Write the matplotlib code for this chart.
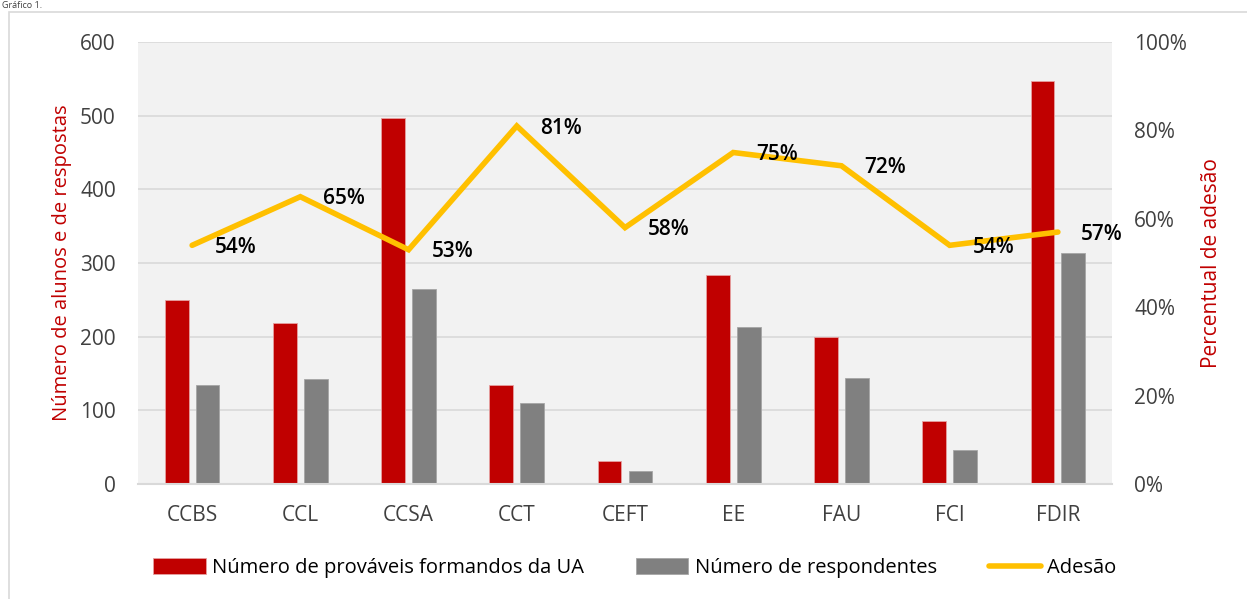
import matplotlib
matplotlib.use("Agg")
import matplotlib.pyplot as plt
import numpy as np
from matplotlib.patches import Rectangle

plt.rcParams['font.family'] = ['Open Sans', 'DejaVu Sans']

categories = ["CCBS", "CCL", "CCSA", "CCT", "CEFT", "EE", "FAU", "FCI", "FDIR"]
formandos = [250, 218, 497, 135, 31, 284, 200, 85, 547]
respondentes = [134, 142, 265, 110, 18, 213, 144, 46, 314]
adesao = [54, 65, 53, 81, 58, 75, 72, 54, 57]
left_ticks = [0, 100, 200, 300, 400, 500, 600]
right_ticks = [0, 20, 40, 60, 80, 100]

W, H = 1247, 599
fig = plt.figure(figsize=(W / 100, H / 100), dpi=100)
fig.patch.set_facecolor("white")

# outer border (partially cut)
fig.add_artist(Rectangle((9 / W, -0.1), 1.2, 1 - 12 / H + 0.1, transform=fig.transFigure,
                         fill=False, edgecolor="#D9D9D9", linewidth=1.2))
fig.text(2 / W, 1 - 1 / H, "Gráfico 1.", fontsize=6.5, color="#404040", va="top", ha="left")

ax = fig.add_axes([138 / W, 1 - 484 / H, (1112 - 138) / W, (484 - 42) / H])
ax.set_facecolor("#F2F2F2")
x = np.arange(len(categories))
off = 0.143
bw = 0.22
b1 = ax.bar(x - off, formandos, bw, color="#C00000", edgecolor="#E6A0A0", linewidth=0.6,
            label="Número de prováveis formandos da UA", zorder=2)
b2 = ax.bar(x + off, respondentes, bw, color="#808080", edgecolor="#A6A6A6", linewidth=0.6,
            label="Número de respondentes", zorder=2)
ax.set_ylim(0, 600)
ax.set_xlim(-0.5, len(categories) - 0.5)
ax.set_yticks(left_ticks)
ax.set_yticklabels([str(t) for t in left_ticks])
ax.yaxis.grid(True, color="#D9D9D9", linewidth=1.2, zorder=0)
ax.set_axisbelow(True)
for s in ["top", "left", "right"]:
    ax.spines[s].set_visible(False)
ax.spines["bottom"].set_color("#D9D9D9")
ax.spines["bottom"].set_linewidth(1.5)
ax.tick_params(axis="both", length=0, labelsize=15, colors="#404040")
ax.tick_params(axis="y", pad=16)
ax.tick_params(axis="x", pad=15)
ax.set_xticks(x)
ax.set_xticklabels(categories)
ax.set_ylabel("Número de alunos e de respostas", color="#C00000", fontsize=14.5, labelpad=6)

ax2 = ax.twinx()
ax2.set_ylim(0, 100)
ax2.set_yticks(right_ticks)
ax2.set_yticklabels([f"{t}%" for t in right_ticks])
for s in ["top", "left", "right", "bottom"]:
    ax2.spines[s].set_visible(False)
ax2.tick_params(axis="y", length=0, labelsize=15, colors="#404040", pad=16)
line, = ax2.plot(x, adesao, color="#FFC000", linewidth=4, solid_capstyle="round",
                 solid_joinstyle="miter", label="Adesão", zorder=3)
for xi, v in zip(x, adesao):
    ax2.annotate(f"{v}%", (xi, v), xytext=(16.5, -1.5), textcoords="offset points",
                 ha="left", va="center", fontsize=15, fontweight="semibold", color="black")
ax2.set_ylabel("Percentual de adesão", color="#C00000", fontsize=15, labelpad=10)

handles = [b1, b2, line]
labels = [h.get_label() for h in handles]
fig.legend(handles, labels, loc="center", bbox_to_anchor=(635 / W, 1 - 568 / H), ncol=3,
           frameon=False, fontsize=14.5, handlelength=2.6, handletextpad=0.3,
           columnspacing=2.6, handleheight=0.8)

fig.savefig("out.png", dpi=100)
